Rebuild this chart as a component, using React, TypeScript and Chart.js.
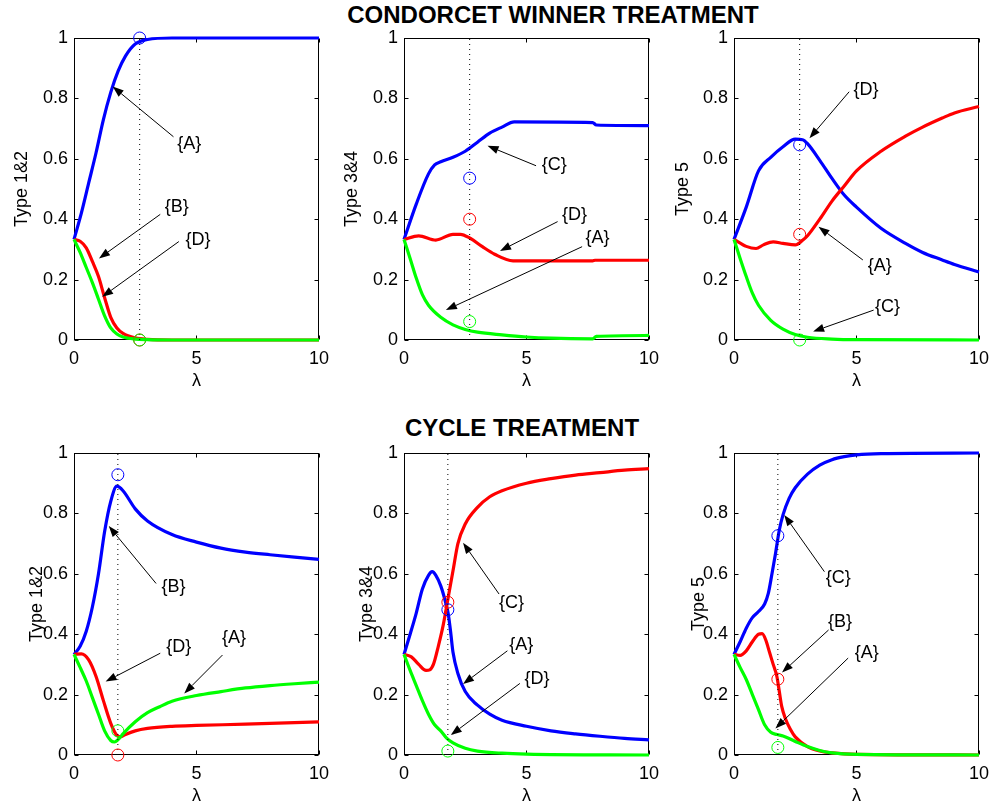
import React, { useEffect, useRef } from 'react';
import { Chart, registerables } from 'chart.js';

Chart.register(...registerables);

type Pt = [number, number];
type Note = { label: string; at: Pt; from: Pt; to: Pt };

const FONT = '"Liberation Sans", Arial, Helvetica, sans-serif';
const BLUE = '#0000ff';
const RED = '#ff0000';
const GREEN = '#00ff00';

// ticks
const X_TICK_VALUES = [0, 5, 10];
const Y_TICK_VALUES = [0, 0.2, 0.4, 0.6, 0.8, 1];

// lambda at which the dotted line / circles are shown
const LAMBDA_STAR_CW = 2.68;
const LAMBDA_STAR_CY = 1.79;

// ---------- CONDORCET WINNER TREATMENT ----------
// Type 1&2
const cw12Blue: Pt[] = [[0, .333], [.3, .42], [.6, .52], [.9, .62], [1.2, .73], [1.5, .82], [1.8, .89], [2.1, .94], [2.5, .98], [3, .995], [4, 1], [10, 1]];
const cw12Red: Pt[] = [[0, .333], [.25, .327], [.5, .305], [.75, .26], [1, .21], [1.25, .14], [1.5, .075], [1.75, .04], [2, .022], [2.5, .007], [3, .002], [4, 0], [10, 0]];
const cw12Green: Pt[] = [[0, .333], [.25, .29], [.5, .24], [.75, .19], [1, .135], [1.25, .08], [1.5, .04], [1.75, .02], [2, .01], [2.5, .003], [3, .001], [4, 0], [10, 0]];
const cw12Circles = [1.0, 0, 0]; // blue, red, green
const cw12Notes: Note[] = [
  { label: '{A}', at: [4.7, .648], from: [4.06, .673], to: [1.58, .839] },
  { label: '{B}', at: [4.19, .441], from: [3.52, .416], to: [1.02, .27] },
  { label: '{D}', at: [5.06, .331], from: [4.28, .326], to: [1.15, .143] },
];

// Type 3&4
const cw34Blue: Pt[] = [[0, .333], [.5, .45], [1, .55], [1.25, .58], [1.5, .59], [2, .605], [2.5, .625], [3, .655], [3.5, .685], [4, .705], [4.5, .722], [7.7, .72], [7.85, .712], [10, .71]];
const cw34Red: Pt[] = [[0, .333], [.6, .345], [1.3, .331], [2, .35], [2.3, .35], [2.7, .337], [3.2, .309], [3.7, .284], [4.45, .262], [7.7, .262], [7.8, .264], [10, .264]];
const cw34Green: Pt[] = [[0, .333], [.25, .27], [.5, .205], [.75, .15], [1, .115], [1.5, .075], [2, .05], [2.5, .035], [3, .026], [4, .017], [5, .01], [6, .006], [7.7, .004], [7.85, .012], [10, .015]];
const cw34Circles = [.536, .40, .061];
const cw34Notes: Note[] = [
  { label: '{C}', at: [6.13, .579], from: [5.39, .577], to: [3.41, .643] },
  { label: '{D}', at: [6.96, .414], from: [6.27, .392], to: [3.92, .295] },
  { label: '{A}', at: [7.9, .337], from: [7.27, .309], to: [1.71, .099] },
];

// Type 5
const cw5Blue: Pt[] = [[0, .333], [.5, .44], [1, .56], [1.5, .605], [2, .64], [2.5, .665], [2.8, .663], [3, .65], [3.5, .595], [4, .535], [4.5, .48], [5, .44], [6, .37], [7, .32], [7.7, .29], [8.5, .265], [9, .25], [10, .225]];
const cw5Red: Pt[] = [[0, .333], [.5, .31], [.9, .303], [1.2, .315], [1.6, .325], [2, .32], [2.5, .315], [2.8, .33], [3, .345], [3.5, .40], [4, .46], [4.5, .51], [5, .56], [6, .625], [7, .675], [7.7, .705], [8.5, .735], [9, .752], [10, .773]];
const cw5Green: Pt[] = [[0, .333], [.25, .27], [.5, .21], [.75, .155], [1, .115], [1.5, .065], [2, .036], [2.5, .018], [3, .009], [4, .003], [5, .001], [10, 0]];
const cw5Circles = [.646, .350, 0];
const cw5Notes: Note[] = [
  { label: '{D}', at: [5.39, .828], from: [4.70, .822], to: [3.08, .668] },
  { label: '{A}', at: [5.95, .246], from: [5.26, .265], to: [3.45, .375] },
  { label: '{C}', at: [6.27, .110], from: [5.70, .099], to: [3.23, .028] },
];

// ---------- CYCLE TREATMENT ----------
// Type 1&2
const cy12Blue: Pt[] = [[0, .333], [.25, .36], [.5, .41], [.75, .49], [1, .6], [1.25, .74], [1.5, .84], [1.75, .89], [2, .875], [2.5, .815], [3, .775], [4, .73], [5, .705], [6, .685], [7, .672], [8, .663], [9, .655], [10, .648]];
const cy12Red: Pt[] = [[0, .333], [.3, .335], [.6, .315], [.9, .26], [1.2, .18], [1.5, .105], [1.75, .065], [1.9, .06], [2.1, .068], [2.5, .08], [3, .088], [4, .095], [5, .098], [7, .102], [10, .11]];
const cy12Green: Pt[] = [[0, .333], [.25, .29], [.5, .245], [.75, .19], [1, .135], [1.25, .08], [1.5, .048], [1.65, .043], [1.85, .055], [2, .07], [2.5, .11], [3, .14], [3.5, .16], [4, .178], [5, .197], [6, .21], [7, .222], [8, .23], [9, .236], [10, .241]];
const cy12Circles = [.928, 0, .08];
const cy12Notes: Note[] = [
  { label: '{B}', at: [4.06, .557], from: [3.35, .568], to: [1.42, .758] },
  { label: '{D}', at: [4.28, .359], from: [3.52, .337], to: [1.29, .243] },
  { label: '{A}', at: [6.53, .386], from: [6.06, .331], to: [4.5, .204] },
];

// Type 3&4
const cy34Blue: Pt[] = [[0, .333], [.25, .40], [.5, .47], [.75, .55], [1, .595], [1.15, .607], [1.3, .595], [1.5, .56], [1.7, .505], [1.8, .47], [1.9, .41], [2, .34], [2.2, .27], [2.5, .21], [3, .165], [3.5, .135], [4, .115], [5, .095], [6, .08], [7, .07], [8, .062], [9, .055], [10, .05]];
const cy34Red: Pt[] = [[0, .333], [.3, .325], [.6, .30], [.9, .28], [1.05, .282], [1.2, .30], [1.4, .36], [1.6, .43], [1.8, .52], [2, .61], [2.2, .70], [2.5, .765], [3, .82], [3.5, .855], [4, .875], [5, .90], [6, .915], [7, .927], [8, .935], [9, .943], [10, .948]];
const cy34Green: Pt[] = [[0, .333], [.25, .28], [.5, .23], [.75, .18], [1, .135], [1.25, .10], [1.5, .08], [1.75, .055], [2, .04], [2.5, .022], [3, .013], [4, .006], [5, .003], [10, 0]];
const cy34Circles = [.481, .506, .013];
const cy34Notes: Note[] = [
  { label: '{C}', at: [4.39, .502], from: [3.88, .533], to: [2.41, .703] },
  { label: '{A}', at: [4.79, .364], from: [4.22, .345], to: [2.41, .235] },
  { label: '{D}', at: [5.43, .251], from: [4.73, .237], to: [1.91, .066] },
];

// Type 5
const cy5Blue: Pt[] = [[0, .333], [.25, .375], [.5, .42], [.75, .455], [1, .475], [1.25, .50], [1.4, .535], [1.55, .60], [1.7, .67], [1.85, .745], [2, .795], [2.25, .85], [2.5, .885], [3, .93], [3.5, .96], [4, .978], [4.5, .988], [5, .994], [6, .998], [10, 1]];
const cy5Red: Pt[] = [[0, .333], [.25, .33], [.5, .345], [.75, .375], [1, .40], [1.15, .402], [1.3, .38], [1.45, .34], [1.6, .30], [1.75, .26], [1.85, .21], [1.95, .16], [2.1, .12], [2.3, .085], [2.5, .06], [3, .028], [3.5, .013], [4, .007], [5, .002], [10, 0]];
const cy5Green: Pt[] = [[0, .333], [.25, .29], [.5, .25], [.75, .20], [1, .15], [1.25, .10], [1.5, .075], [1.75, .068], [2, .063], [2.5, .045], [3, .028], [3.5, .015], [4, .007], [5, .002], [10, 0]];
const cy5Circles = [.726, .251, .025];
const cy5Notes: Note[] = [
  { label: '{C}', at: [4.26, .585], from: [3.69, .607], to: [2.05, .795] },
  { label: '{B}', at: [4.33, .441], from: [3.86, .414], to: [1.96, .273] },
  { label: '{A}', at: [5.42, .337], from: [4.66, .321], to: [1.69, .088] },
];

// ---------- layout ----------
const AX_W = 249;
const AX_H = 302;
const PAD_L = 74;
const PAD_T = 20;
const PAD_R = 14;
const PAD_B = 56;
const COL_LEFT = [74, 404, 734];
const ROW_TOP = [38, 453];
const TEXT_SIZE = 18;

type PanelCfg = {
  key: string;
  left: number;
  top: number;
  ylabel: string;
  ylabelOffset: number;
  blue: Pt[];
  red: Pt[];
  green: Pt[];
  circles: number[];
  lam: number;
  notes: Note[];
};

const PANELS: PanelCfg[] = [
  { key: 'cw12', left: COL_LEFT[0], top: ROW_TOP[0], ylabel: 'Type 1&2', ylabelOffset: 52, blue: cw12Blue, red: cw12Red, green: cw12Green, circles: cw12Circles, lam: LAMBDA_STAR_CW, notes: cw12Notes },
  { key: 'cw34', left: COL_LEFT[1], top: ROW_TOP[0], ylabel: 'Type 3&4', ylabelOffset: 52, blue: cw34Blue, red: cw34Red, green: cw34Green, circles: cw34Circles, lam: LAMBDA_STAR_CW, notes: cw34Notes },
  { key: 'cw5', left: COL_LEFT[2], top: ROW_TOP[0], ylabel: 'Type 5', ylabelOffset: 51, blue: cw5Blue, red: cw5Red, green: cw5Green, circles: cw5Circles, lam: LAMBDA_STAR_CW, notes: cw5Notes },
  { key: 'cy12', left: COL_LEFT[0], top: ROW_TOP[1], ylabel: 'Type 1&2', ylabelOffset: 37, blue: cy12Blue, red: cy12Red, green: cy12Green, circles: cy12Circles, lam: LAMBDA_STAR_CY, notes: cy12Notes },
  { key: 'cy34', left: COL_LEFT[1], top: ROW_TOP[1], ylabel: 'Type 3&4', ylabelOffset: 37, blue: cy34Blue, red: cy34Red, green: cy34Green, circles: cy34Circles, lam: LAMBDA_STAR_CY, notes: cy34Notes },
  { key: 'cy5', left: COL_LEFT[2], top: ROW_TOP[1], ylabel: 'Type 5', ylabelOffset: 35, blue: cy5Blue, red: cy5Red, green: cy5Green, circles: cy5Circles, lam: LAMBDA_STAR_CY, notes: cy5Notes },
];

const TICK_LEN = 4;

function decorPlugin(cfg: PanelCfg) {
  return {
    id: 'decor_' + cfg.key,
    beforeDatasetsDraw(chart: any) {
      const { ctx, chartArea: a, scales } = chart;
      const x = scales.x;
      const y = scales.y;
      ctx.save();
      ctx.strokeStyle = '#000';
      ctx.lineWidth = 1;
      const l = Math.round(a.left) + 0.5;
      const t = Math.round(a.top) + 0.5;
      const r = Math.round(a.right) - 0.5;
      const b = Math.round(a.bottom) - 0.5;
      ctx.strokeRect(l, t, r - l, b - t);
      ctx.beginPath();
      for (const v of X_TICK_VALUES) {
        const px = Math.round(x.getPixelForValue(v)) + 0.5;
        ctx.moveTo(px, b);
        ctx.lineTo(px, b - TICK_LEN);
        ctx.moveTo(px, t);
        ctx.lineTo(px, t + TICK_LEN);
      }
      for (const v of Y_TICK_VALUES) {
        const py = Math.round(y.getPixelForValue(v)) + 0.5;
        ctx.moveTo(l, py);
        ctx.lineTo(l + TICK_LEN, py);
        ctx.moveTo(r, py);
        ctx.lineTo(r - TICK_LEN, py);
      }
      ctx.stroke();
      ctx.restore();
    },
    afterDatasetsDraw(chart: any) {
      const { ctx, chartArea: a, scales } = chart;
      const x = scales.x;
      const y = scales.y;
      ctx.save();
      ctx.fillStyle = '#000';
      ctx.strokeStyle = '#000';
      ctx.lineWidth = 1;
      ctx.font = `${TEXT_SIZE}px ${FONT}`;
      ctx.textAlign = 'center';
      ctx.textBaseline = 'middle';
      for (const n of cfg.notes) {
        const sx = x.getPixelForValue(n.from[0]);
        const sy = y.getPixelForValue(n.from[1]);
        const tx = x.getPixelForValue(n.to[0]);
        const ty = y.getPixelForValue(n.to[1]);
        const ang = Math.atan2(ty - sy, tx - sx);
        const L = 11;
        const W = 4;
        const bx = tx - L * Math.cos(ang);
        const by = ty - L * Math.sin(ang);
        ctx.beginPath();
        ctx.moveTo(sx, sy);
        ctx.lineTo(bx, by);
        ctx.stroke();
        ctx.beginPath();
        ctx.moveTo(tx, ty);
        ctx.lineTo(bx + W * Math.sin(ang), by - W * Math.cos(ang));
        ctx.lineTo(bx - W * Math.sin(ang), by + W * Math.cos(ang));
        ctx.closePath();
        ctx.fill();
        ctx.fillText(n.label, x.getPixelForValue(n.at[0]), y.getPixelForValue(n.at[1]));
      }
      // axis labels
      ctx.fillText('λ', (a.left + a.right) / 2, a.bottom + 41);
      ctx.translate(a.left - cfg.ylabelOffset, (a.top + a.bottom) / 2);
      ctx.rotate(-Math.PI / 2);
      ctx.fillText(cfg.ylabel, 0, 0);
      ctx.restore();
    },
  };
}

function lineDs(points: Pt[], color: string) {
  return {
    data: points.map(([px, py]) => ({ x: px, y: py })),
    borderColor: color,
    backgroundColor: color,
    borderWidth: 3.2,
    pointRadius: 0,
    pointHoverRadius: 0,
    cubicInterpolationMode: 'monotone' as const,
    fill: false,
    clip: false as any,
  };
}

function circleDs(lam: number, v: number, color: string) {
  return {
    data: [{ x: lam, y: v }],
    showLine: false,
    borderColor: color,
    backgroundColor: 'rgba(0,0,0,0)',
    pointBorderColor: color,
    pointBackgroundColor: 'rgba(0,0,0,0)',
    pointRadius: 6,
    pointHoverRadius: 6,
    pointBorderWidth: 1,
    clip: false as any,
  };
}

function Panel({ cfg }: { cfg: PanelCfg }) {
  const ref = useRef<HTMLCanvasElement>(null);
  useEffect(() => {
    const canvas = ref.current;
    if (!canvas) return;
    const datasets: any[] = [
      circleDs(cfg.lam, cfg.circles[2], GREEN),
      circleDs(cfg.lam, cfg.circles[1], RED),
      circleDs(cfg.lam, cfg.circles[0], BLUE),
      {
        data: [{ x: cfg.lam, y: 0 }, { x: cfg.lam, y: 1 }],
        borderColor: '#000',
        borderWidth: 1,
        borderDash: [1, 4],
        pointRadius: 0,
        pointHoverRadius: 0,
        fill: false,
      },
      lineDs(cfg.green, GREEN),
      lineDs(cfg.red, RED),
      lineDs(cfg.blue, BLUE),
    ];
    const chart = new Chart(canvas, {
      type: 'line',
      data: { datasets },
      options: {
        responsive: false,
        animation: false,
        devicePixelRatio: 1,
        events: [],
        layout: { padding: { left: 0, top: PAD_T, right: PAD_R, bottom: 0 } },
        plugins: { legend: { display: false }, tooltip: { enabled: false } },
        scales: {
          x: {
            type: 'linear',
            min: 0,
            max: 10,
            grid: { display: false, drawTicks: false },
            border: { display: false },
            ticks: {
              padding: 8,
              color: '#000',
              font: { size: TEXT_SIZE, family: FONT },
              maxRotation: 0,
              autoSkip: false,
              callback: (v: any) => String(Math.round(Number(v) * 10) / 10),
            },
            afterBuildTicks: (s: any) => {
              s.ticks = X_TICK_VALUES.map((v) => ({ value: v }));
            },
            afterFit: (s: any) => {
              s.height = PAD_B;
            },
          },
          y: {
            type: 'linear',
            min: 0,
            max: 1,
            grid: { display: false, drawTicks: false },
            border: { display: false },
            ticks: {
              padding: 6,
              color: '#000',
              font: { size: TEXT_SIZE, family: FONT },
              autoSkip: false,
              callback: (v: any) => String(Math.round(Number(v) * 10) / 10),
            },
            afterBuildTicks: (s: any) => {
              s.ticks = Y_TICK_VALUES.map((v) => ({ value: v }));
            },
            afterFit: (s: any) => {
              s.width = PAD_L;
            },
          },
        },
      } as any,
      plugins: [decorPlugin(cfg)],
    });
    return () => chart.destroy();
  }, [cfg]);
  return (
    <canvas
      ref={ref}
      width={AX_W + PAD_L + PAD_R}
      height={AX_H + PAD_T + PAD_B}
      style={{ position: 'absolute', left: cfg.left - PAD_L, top: cfg.top - PAD_T }}
    />
  );
}

const titleStyle = (cx: number, cy: number): React.CSSProperties => ({
  position: 'absolute',
  left: cx,
  top: cy,
  transform: 'translate(-50%, -50%)',
  fontFamily: FONT,
  fontWeight: 'bold',
  fontSize: 24,
  lineHeight: 1,
  whiteSpace: 'nowrap',
  color: '#000',
});

export default function App() {
  return (
    <div style={{ position: 'absolute', left: 0, top: 0, width: 998, height: 807, background: '#fff', overflow: 'hidden' }}>
      <div style={titleStyle(553, 15)}>CONDORCET WINNER TREATMENT</div>
      <div style={titleStyle(522, 428)}>CYCLE TREATMENT</div>
      {PANELS.map((p) => (
        <Panel key={p.key} cfg={p} />
      ))}
    </div>
  );
}
